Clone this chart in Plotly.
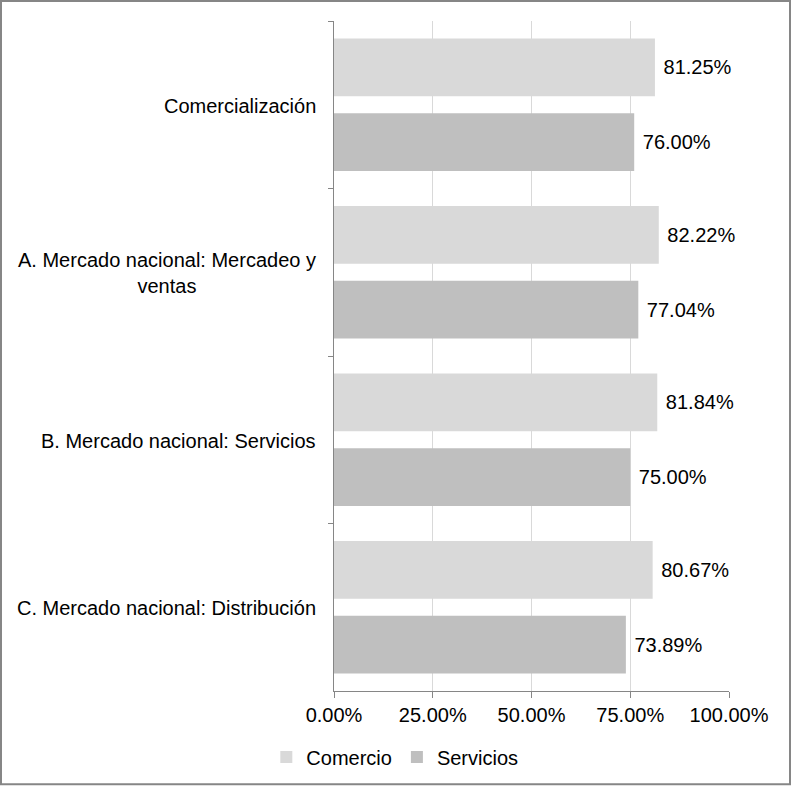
import plotly.graph_objects as go

categories = [
    "Comercialización",
    "A. Mercado nacional: Mercadeo y<br>ventas",
    "B. Mercado nacional: Servicios",
    "C. Mercado nacional: Distribución",
]
comercio = [81.25, 82.22, 81.84, 80.67]
servicios = [76.00, 77.04, 75.00, 73.89]
x_ticks = [0, 25, 50, 75, 100]
x_tick_labels = ["0.00%", "25.00%", "50.00%", "75.00%", "100.00%"]

FONT = "Liberation Sans, Arial, sans-serif"
FS = 20
W, H = 791, 787
ML, MR, MT, MB = 334, 62, 21, 95
PW, PH = W - ML - MR, H - MT - MB

fig = go.Figure()
fig.add_trace(go.Bar(
    y=categories, x=comercio, name="Comercio", orientation="h",
    marker=dict(color="#d9d9d9", line=dict(width=0)),
    texttemplate="\u00a0%{x:.2f}%", textposition="outside",
    textfont=dict(family=FONT, size=FS, color="#000000"),
    constraintext="none", cliponaxis=False,
))
fig.add_trace(go.Bar(
    y=categories, x=servicios, name="Servicios", orientation="h",
    marker=dict(color="#bfbfbf", line=dict(width=0)),
    texttemplate="\u00a0%{x:.2f}%", textposition="outside",
    textfont=dict(family=FONT, size=FS, color="#000000"),
    constraintext="none", cliponaxis=False,
))

annotations = []
for c in categories:
    annotations.append(dict(
        x=0, xref="paper", y=c, yref="y", text=c, showarrow=False,
        xanchor="right", yanchor="middle", align="center", xshift=-16, yshift=-1,
        font=dict(family=FONT, size=FS, color="#000000"),
    ))

border = dict(
    type="rect", xref="paper", yref="paper",
    x0=(1 - ML) / PW, x1=(790 - ML) / PW,
    y0=(H - MB - 785.5) / PH, y1=(H - MB - 1) / PH,
    line=dict(color="#868686", width=2), fillcolor="rgba(0,0,0,0)",
)

fig.update_layout(
    width=W, height=H,
    margin=dict(l=ML, r=MR, t=MT, b=MB, pad=0),
    paper_bgcolor="white", plot_bgcolor="white",
    font=dict(family=FONT, size=FS, color="#000000"),
    barmode="group", bargap=0.106, bargroupgap=0.227,
    showlegend=True,
    legend=dict(
        orientation="h", x=0.154, xanchor="center", y=-0.097, yanchor="middle",
        font=dict(family=FONT, size=FS, color="#000000"),
        itemwidth=30, traceorder="normal",
    ),
    annotations=annotations,
    shapes=[border],
    xaxis=dict(
        range=[0, 100], tickvals=x_ticks, ticktext=x_tick_labels,
        showgrid=True, gridcolor="#d9d9d9", gridwidth=1,
        showline=True, linecolor="#868686", linewidth=1,
        ticks="outside", ticklen=6, tickcolor="#868686",
        tickfont=dict(family=FONT, size=FS, color="#000000"),
        zeroline=False, fixedrange=True,
    ),
    yaxis=dict(
        autorange="reversed", showticklabels=False,
        showline=True, linecolor="#868686", linewidth=1,
        ticks="outside", ticklen=5, tickcolor="#868686", tickson="boundaries",
        showgrid=False, zeroline=False, fixedrange=True,
    ),
)

fig.write_html(
    "out.html",
    config={"displayModeBar": False},
    post_script="document.body.style.margin='0';document.body.style.overflow='hidden';",
)
